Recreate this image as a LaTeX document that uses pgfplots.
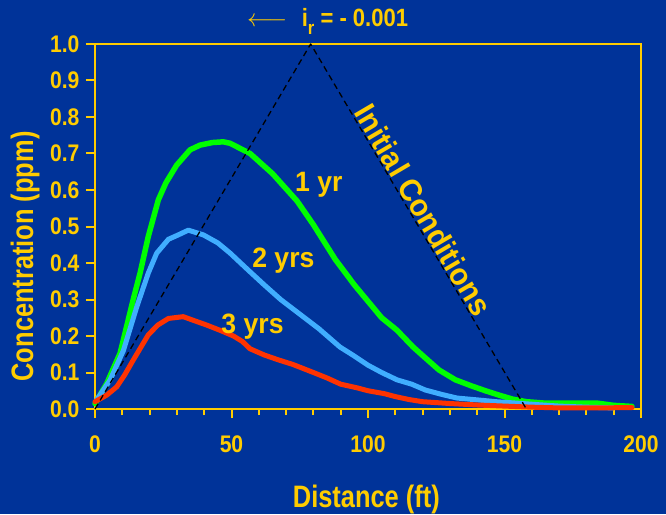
\documentclass[border=0pt]{standalone}
\usepackage{pgfplots}
\pgfplotsset{compat=1.18}
\usepackage{fontspec}
\setmainfont{Liberation Sans}
\newfontfamily\tickf{Liberation Sans}[FakeStretch=0.88]
\newfontfamily\labf{Liberation Sans}[FakeStretch=0.82]
\newfontfamily\annf{Liberation Sans}[FakeStretch=0.95]
\definecolor{bg}{HTML}{003399}
\definecolor{yel}{HTML}{FFCC00}
\definecolor{grn}{HTML}{00FF00}
\definecolor{lblue}{HTML}{40AEFF}
\definecolor{rd}{HTML}{FF3300}
\begin{document}
\begin{tikzpicture}
\fill[bg] (-95pt,-105pt) rectangle (571pt,409pt);
\begin{axis}[at={(0,0)}, anchor=south west, scale only axis,
  width=546pt, height=365pt,
  xmin=0, xmax=200, ymin=0, ymax=1, clip=false,
  axis line style={yel, line width=2pt},
  xtick={0,50,100,150,200},
  minor xtick={10,20,30,40,60,70,80,90,110,120,130,140,160,170,180,190},
  ytick={0,0.1,0.2,0.3,0.4,0.5,0.6,0.7,0.8,0.9,1.0},
  tick align=outside, xtick pos=bottom, ytick pos=left,
  major tick length=9pt, minor tick length=6pt,
  tick style={yel, line width=2pt},
  /pgf/number format/assume math mode=true,
  xticklabel style={font=\tickf\bfseries\fontsize{24}{26}\selectfont, text=yel, yshift=-14pt},
  yticklabel style={font=\tickf\bfseries\fontsize{24}{26}\selectfont, text=yel, xshift=-3pt,
    /pgf/number format/.cd, fixed, fixed zerofill, precision=1},
  every axis plot/.append style={line join=round, line cap=round},
]
\addplot[grn, line width=5.5pt] coordinates {
(0,0.015)(4.3,0.07)(9.2,0.153)(14,0.30)(16.5,0.372)(19.5,0.472)(23.2,0.573)(26,0.62)
(29.9,0.668)(34.8,0.71)(38.5,0.723)(43,0.73)(47,0.732)(49.5,0.728)(56.8,0.70)(65,0.645)
(74,0.57)(80,0.505)(88,0.41)(95,0.34)(100,0.295)(105,0.25)(110.6,0.216)(116.5,0.17)
(121,0.14)(126,0.107)(132,0.08)(138,0.063)(143,0.05)(148,0.038)(153,0.027)(158,0.02)
(165,0.016)(175,0.016)(184,0.016)(190,0.01)(196.7,0.007)};
\addplot[lblue, line width=5pt] coordinates {
(0.6,0.025)(5.5,0.079)(10.4,0.16)(15.3,0.28)(19.5,0.372)(22.6,0.427)(26.9,0.465)
(30.5,0.477)(34.2,0.49)(39.7,0.477)(45,0.455)(49.5,0.427)(56.2,0.38)(62,0.34)(68,0.30)
(75,0.26)(82,0.22)(89.7,0.17)(95,0.145)(100,0.12)(105,0.10)(110.6,0.08)(116,0.068)
(121,0.052)(127,0.04)(132.6,0.03)(140,0.025)(147,0.02)(154.6,0.016)(162,0.012)
(170,0.008)(180,0.005)(190,0.003)};
\addplot[rd, line width=5pt] coordinates {
(0,0.02)(4.3,0.038)(8,0.061)(11,0.095)(14,0.134)(19.5,0.203)(23,0.23)(26.9,0.248)
(32.3,0.253)(36,0.243)(40.9,0.23)(46,0.215)(50.7,0.2)(54,0.185)(56.8,0.165)(62,0.148)
(67,0.135)(72.5,0.122)(80,0.1)(85,0.085)(90,0.068)(96,0.058)(100,0.05)(106,0.042)
(110,0.034)(115,0.026)(120,0.02)(130,0.015)(140,0.011)(150,0.008)(160,0.005)
(170,0.003)(185,0.003)(196.7,0.004)};
\addplot[black, line width=1.3pt, dash pattern=on 6pt off 4pt, line cap=butt] coordinates {(0,0)(79,1)(158,0)};
\node[text=yel, font=\labf\bfseries\fontsize{31}{34}\selectfont, anchor=base] at (axis description cs:0.497,-0.2685) {Distance (ft)};
\node[text=yel, font=\labf\bfseries\fontsize{31}{34}\selectfont, rotate=90, anchor=center] at (axis description cs:-0.128,0.418) {Concentration (ppm)};
\node[text=yel, font=\annf\bfseries\fontsize{28}{30}\selectfont, anchor=base] at (axis cs:82,0.595) {1 yr};
\node[text=yel, font=\annf\bfseries\fontsize{28}{30}\selectfont, anchor=base] at (axis cs:69,0.389) {2 yrs};
\node[text=yel, font=\annf\bfseries\fontsize{28}{30}\selectfont, anchor=base] at (axis cs:57.7,0.208) {3 yrs};
\node[text=yel, font=\annf\bfseries\fontsize{31}{34}\selectfont, rotate=-59.5, anchor=center] at (axis cs:120.3,0.545) {Initial Conditions};
\node[text=yel, font=\tickf\bfseries\fontsize{25}{27}\selectfont, anchor=base] at (axis cs:85.2,1.047) {\fontsize{30}{30}\selectfont$\longleftarrow$\ \ \fontsize{25}{27}\selectfont i\raisebox{-0.3em}{\fontsize{19}{19}\selectfont r} = - 0.001};
\end{axis}
\pgfresetboundingbox
\useasboundingbox (-95pt,-105pt) rectangle (571pt,409pt);
\end{tikzpicture}
\end{document}
